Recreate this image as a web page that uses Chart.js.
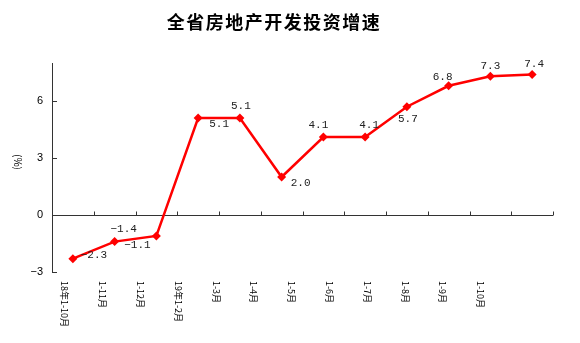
<!DOCTYPE html>
<html lang="zh">
<head>
    <meta charset="UTF-8">
    <title>全省房地产开发投资增速</title>
    <script src="https://cdn.jsdelivr.net/npm/chart.js"></script>
    <style>
        html, body { margin: 0; padding: 0; background: #fff; }
        .wrap { width: 580px; height: 343px; position: relative; }
    </style>
</head>
<body>
    <div class="wrap">
        <canvas id="invChart"></canvas>
    </div>

    <script>
        // Данные графика
        const chartTitle = '全省房地产开发投资增速';
        const unitLabel = '(%)';
        const months = ['18年1-10月', '1-11月', '1-12月', '19年1-2月', '1-3月', '1-4月',
                        '1-5月', '1-6月', '1-7月', '1-8月', '1-9月', '1-10月'];
        const growth = [-2.3, -1.4, -1.1, 5.1, 5.1, 2.0, 4.1, 4.1, 5.7, 6.8, 7.3, 7.4];
        const yTicks = [-3, 0, 3, 6];

        // Смещения подписей значений относительно точек
        const labelShift = [[21, -4], [9, -13], [-19, 9], [21, 6], [1, -12], [19, 6],
                            [-5, -12], [4, -12], [1, 12], [-6, -9], [0, -10], [2, -10]];

        const extras = {
            id: 'extras',
            afterDraw(chart) {
                const { ctx, chartArea: a, scales: { x, y } } = chart;
                ctx.save();

                // заголовок
                ctx.fillStyle = '#000';
                ctx.textAlign = 'center';
                ctx.textBaseline = 'middle';
                ctx.font = 'bold 18px "Noto Sans CJK SC"';
                ctx.letterSpacing = '1.5px';
                ctx.fillText(chartTitle, 274, 22);
                ctx.letterSpacing = '0px';

                // единица измерения
                ctx.save();
                ctx.translate(18, 162);
                ctx.rotate(Math.PI / 2);
                ctx.font = '10px "Noto Sans CJK SC"';
                ctx.fillText(unitLabel, 0, 0);
                ctx.restore();

                // засечки оси Y внутрь
                ctx.strokeStyle = '#333';
                ctx.lineWidth = 1;
                ctx.beginPath();
                yTicks.forEach(v => {
                    const py = Math.round(y.getPixelForValue(v)) + 0.5;
                    ctx.moveTo(a.left, py);
                    ctx.lineTo(a.left + 5, py);
                });
                // засечки категорий на нулевой линии
                const y0 = Math.round(y.getPixelForValue(0)) + 0.5;
                const w = x.getPixelForValue(1) - x.getPixelForValue(0);
                for (let i = 1; i <= months.length; i++) {
                    const bx = Math.round(x.getPixelForValue(i) - w / 2) + 0.5;
                    ctx.moveTo(bx, y0);
                    ctx.lineTo(bx, y0 - 4);
                }
                ctx.stroke();

                // подписи значений
                ctx.fillStyle = '#222';
                ctx.font = '11px "Liberation Mono"';
                growth.forEach((v, i) => {
                    const px = x.getPixelForValue(i);
                    const py = y.getPixelForValue(v);
                    const s = labelShift[i];
                    ctx.fillText(v.toFixed(1).replace('-', '−'), px + s[0], py + s[1]);
                });

                // подписи категорий, повернутые по часовой
                ctx.fillStyle = '#000';
                ctx.font = '9px "Noto Sans CJK SC"';
                ctx.textAlign = 'left';
                months.forEach((m, i) => {
                    const px = a.left - 6 + (x.getPixelForValue(i) - a.left) * 0.905;
                    ctx.save();
                    ctx.translate(px, a.bottom + 9);
                    ctx.rotate(Math.PI / 2);
                    ctx.fillText(m, 0, 0);
                    ctx.restore();
                });

                ctx.restore();
            }
        };

        const ctx = document.getElementById('invChart').getContext('2d');
        const invChart = new Chart(ctx, {
            type: 'line',
            data: {
                labels: months,
                datasets: [{
                    data: growth,
                    borderColor: '#ff0000',
                    backgroundColor: '#ff0000',
                    borderWidth: 2.5,
                    pointStyle: 'rectRot',
                    pointRadius: 4.5,
                    pointBackgroundColor: '#ff0000',
                    pointBorderWidth: 0,
                    tension: 0,
                    fill: false
                }]
            },
            options: {
                responsive: true,
                maintainAspectRatio: false,
                animation: false,
                layout: { padding: { top: 63, bottom: 71, left: 0, right: 27 } },
                plugins: {
                    legend: { display: false },
                    tooltip: { enabled: false }
                },
                scales: {
                    x: {
                        display: false,
                        offset: true
                    },
                    y: {
                        min: -3,
                        max: 8,
                        afterFit: s => { s.width = 52; },
                        afterBuildTicks: s => { s.ticks = yTicks.map(v => ({ value: v })); },
                        border: { display: true, color: '#333', width: 1 },
                        grid: {
                            drawTicks: false,
                            color: c => (c.tick && c.tick.value === 0) ? '#333' : 'rgba(0,0,0,0)'
                        },
                        ticks: {
                            padding: 9,
                            color: '#000',
                            font: { family: '"Liberation Sans"', size: 11 },
                            callback: v => String(v).replace('-', '−')
                        }
                    }
                }
            },
            plugins: [extras]
        });
    </script>
</body>
</html>
